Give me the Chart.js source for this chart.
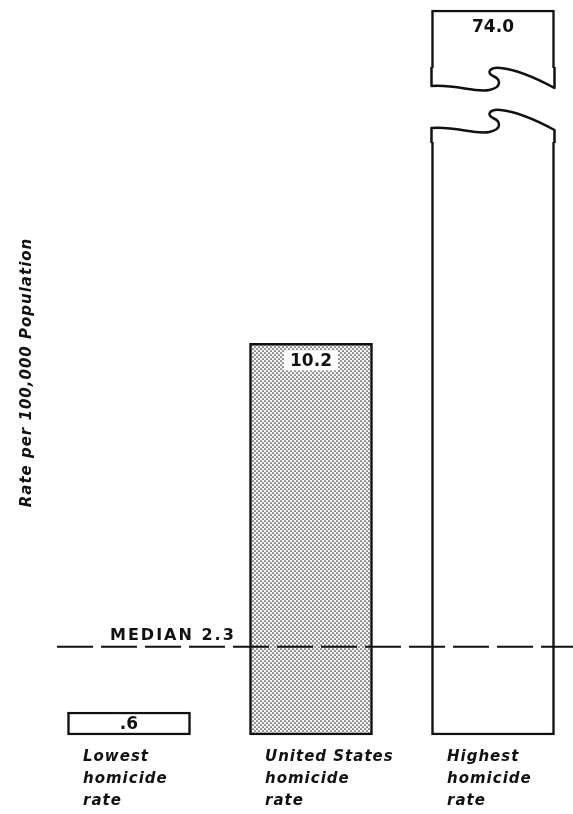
<!DOCTYPE html>
<html>
<head>
<meta charset="utf-8">
<title>Homicide rates</title>
<script src="https://cdn.jsdelivr.net/npm/chart.js@4.4.1/dist/chart.umd.min.js"></script>
<style>
  html, body { margin: 0; padding: 0; background: #fff; }
  #wrap { width: 573px; height: 814px; }
</style>
</head>
<body>
<div id="wrap"><canvas id="chart"></canvas></div>
<script>
// data
const categories = [
    ['Lowest', 'homicide', 'rate'],
    ['United States', 'homicide', 'rate'],
    ['Highest', 'homicide', 'rate']
];
const rates = [0.6, 10.2, 74.0];
const median = 2.3;
const medianLabel = 'MEDIAN 2.3';
const yAxisTitle = 'Rate per 100,000 Population';
const yBreak = 18.88; // top of the axis, taller bars get broken

const ink = '#111';

function dotPattern(ctx) {
    const c = document.createElement('canvas');
    c.width = 4;
    c.height = 4;
    const g = c.getContext('2d');
    g.fillStyle = '#f6f6f6';
    g.fillRect(0, 0, 4, 4);
    g.fillStyle = '#3a3a3a';
    [[1, 1], [3, 3]].forEach(([x, y]) => {
        g.beginPath();
        g.arc(x, y, 0.85, 0, Math.PI * 2);
        g.fill();
    });
    return ctx.createPattern(c, 'repeat');
}

// the torn edge of the broken bar
function wave(ctx, L, W, y0) {
    ctx.bezierCurveTo(L + 0.2 * W, y0 - 2, L + 0.35 * W, y0 + 7, L + 0.47 * W, y0 + 4);
    ctx.bezierCurveTo(L + 0.58 * W, y0 + 1, L + 0.56 * W, y0 - 7, L + 0.5 * W, y0 - 10);
    ctx.bezierCurveTo(L + 0.44 * W, y0 - 14, L + 0.48 * W, y0 - 19, L + 0.56 * W, y0 - 18);
    ctx.bezierCurveTo(L + 0.72 * W, y0 - 16, L + 0.88 * W, y0 - 6, L + W, y0 + 2);
}

const spacing = {
    id: 'spacing',
    beforeDraw(chart) { chart.ctx.letterSpacing = '1px'; },
    beforeDatasetsDraw(chart) { chart.ctx.letterSpacing = '0px'; }
};

const brokenBar = {
    id: 'brokenBar',
    afterDatasetsDraw(chart) {
        const ctx = chart.ctx;
        chart.getDatasetMeta(0).data.forEach((bar, i) => {
            if (rates[i] <= yBreak) return;
            const W = bar.width, L = bar.x - W / 2, top = bar.y;
            ctx.save();
            ctx.fillStyle = '#fff';
            ctx.fillRect(L - 3, top + 58, W + 6, 74);
            ctx.strokeStyle = ink;
            ctx.lineWidth = 2.5;
            ctx.lineJoin = 'round';
            ctx.beginPath();
            ctx.moveTo(L, top + 57);
            ctx.lineTo(L, top + 76);
            wave(ctx, L, W, top + 76);
            ctx.lineTo(L + W, top + 57);
            ctx.stroke();
            ctx.beginPath();
            ctx.moveTo(L, top + 133);
            ctx.lineTo(L, top + 118);
            wave(ctx, L, W, top + 118);
            ctx.lineTo(L + W, top + 133);
            ctx.stroke();
            ctx.restore();
        });
    }
};

const valueLabels = {
    id: 'valueLabels',
    afterDatasetsDraw(chart) {
        const ctx = chart.ctx;
        ctx.save();
        ctx.font = 'bold 17px "DejaVu Sans"';
        ctx.textAlign = 'center';
        ctx.textBaseline = 'middle';
        chart.getDatasetMeta(0).data.forEach((bar, i) => {
            const text = rates[i].toFixed(1).replace(/^0\./, '.');
            const h = bar.base - bar.y;
            const cy = bar.y + Math.min(17, h / 2);
            const tw = ctx.measureText(text).width;
            const bh = Math.min(20, h - 6);
            ctx.fillStyle = '#fff';
            ctx.fillRect(bar.x - tw / 2 - 6, cy - bh / 2, tw + 12, bh);
            ctx.fillStyle = ink;
            ctx.fillText(text, bar.x, cy + 1);
        });
        ctx.restore();
    }
};

const medianLine = {
    id: 'medianLine',
    afterDatasetsDraw(chart) {
        const { ctx, chartArea, scales } = chart;
        const py = scales.y.getPixelForValue(median);
        ctx.save();
        ctx.strokeStyle = ink;
        ctx.lineWidth = 2;
        ctx.setLineDash([36, 8]);
        ctx.beginPath();
        ctx.moveTo(chartArea.left, py);
        ctx.lineTo(chartArea.right, py);
        ctx.stroke();
        ctx.setLineDash([]);
        ctx.font = 'bold 16px "DejaVu Sans"';
        ctx.letterSpacing = '2px';
        ctx.fillStyle = ink;
        ctx.textAlign = 'left';
        ctx.textBaseline = 'alphabetic';
        ctx.fillText(medianLabel, chartArea.left + 53, py - 7);
        ctx.restore();
    }
};

const ctx = document.getElementById('chart').getContext('2d');

const config = {
    type: 'bar',
    data: {
        datasets: [{
            data: rates.map((v, i) => ({ x: i, y: Math.min(v, yBreak) })),
            backgroundColor: ['#fff', dotPattern(ctx), '#fff'],
            borderColor: ink,
            borderWidth: 2.5,
            borderSkipped: false,
            barThickness: 123,
            clip: false
        }]
    },
    options: {
        responsive: true,
        maintainAspectRatio: false,
        animation: false,
        layout: { padding: { top: 10, left: 0, right: 0, bottom: 0 } },
        plugins: {
            legend: { display: false },
            tooltip: { enabled: false }
        },
        scales: {
            x: {
                type: 'linear',
                offset: false,
                min: -0.3956,
                max: 2.4396,
                grid: { display: false, drawTicks: false, offset: false },
                border: { display: false },
                afterBuildTicks: s => { s.ticks = categories.map((c, i) => ({ value: i })); },
                afterFit: s => { s.height = 79; s.paddingLeft = 0; s.paddingRight = 0; },
                ticks: {
                    autoSkip: false,
                    maxRotation: 0,
                    align: 'start',
                    labelOffset: -46,
                    padding: 11,
                    color: ink,
                    font: { family: 'DejaVu Sans', size: 15, style: 'italic', weight: 'bold', lineHeight: 22 / 15 },
                    callback: v => categories[v]
                }
            },
            y: {
                min: 0,
                max: yBreak,
                ticks: { display: false },
                grid: { display: false, drawTicks: false },
                border: { display: false },
                afterFit: s => { s.width = 57; },
                title: {
                    display: true,
                    text: yAxisTitle,
                    color: ink,
                    padding: { top: 18, bottom: 0 },
                    font: { family: 'DejaVu Sans', size: 15, style: 'italic', weight: 'bold', lineHeight: 1.2 }
                }
            }
        }
    },
    plugins: [spacing, brokenBar, valueLabels, medianLine]
};

const myChart = new Chart(ctx, config);
</script>
</body>
</html>
